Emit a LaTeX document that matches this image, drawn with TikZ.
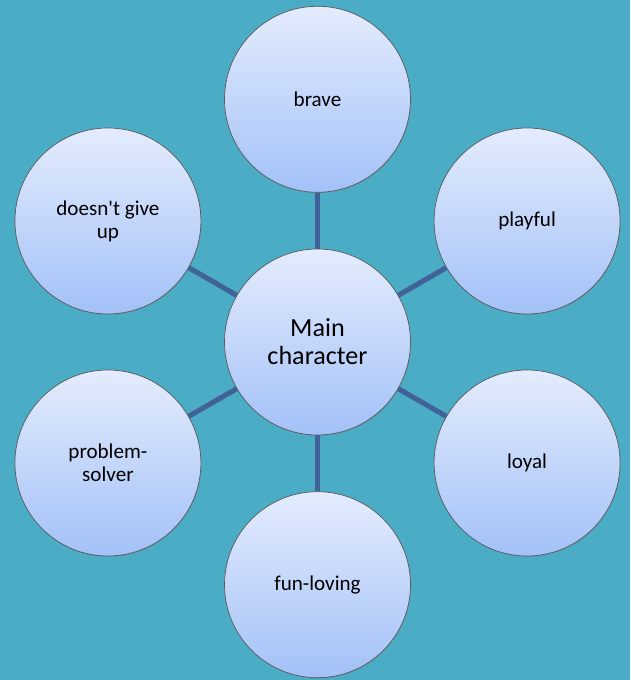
\documentclass[tikz,border=0pt]{standalone}
\usepackage{fontspec}
\setmainfont{Carlito}[Ligatures=TeXOff]
\usetikzlibrary{positioning, shadows}
\definecolor{bgteal}{RGB}{75,172,198}
\definecolor{circtop}{RGB}{228,236,253}
\definecolor{circbottom}{RGB}{163,193,248}
\definecolor{linkblue}{RGB}{65,98,150}
\tikzset{
	backgroundcolor/.style ={fill=bgteal},
	bubble/.append style={
		circle,
		draw=black!65,
		line width=0.5pt,
		top color=circtop,
		bottom color=circbottom,
		minimum size=46.5mm,
		inner sep=0mm,
		align=center,
		font={\fontsize{15}{16.4}\selectfont},
		drop shadow={opacity=0.3, shadow xshift=0.5pt, shadow yshift=-0.7pt}
	},
	hub/.append style={
		font={\fontsize{18.6}{20}\selectfont},
	},
	link/.append style={
		draw=linkblue,
		line width=3.6pt,
	},
}

\begin{document}
\begin{tikzpicture}[]
		\fill[backgroundcolor] (-7.9375,-8.45) rectangle (7.8125,8.55);
		\useasboundingbox (-7.9375,-8.45) rectangle (7.8125,8.55);
		
		\node(main)[bubble, hub]{Main\\character};
		\node(brave)[bubble, above=1.4 of main]{brave};
		\node(funloving)[bubble, below=1.4 of main]{fun-loving};
		\node(playful)[bubble] at (30:6.05) {playful};
		\node(loyal)[bubble] at (-30:6.05) {loyal};
		\node(solver)[bubble] at (210:6.05) {problem-\\solver};
		\node(giveup)[bubble] at (150:6.05) {doesn't give\\up};
		
		\foreach \leaf in {brave, playful, loyal, funloving, solver, giveup}{
			\draw[link] (main) -- (\leaf);
		};
		
\end{tikzpicture}
\end{document}
